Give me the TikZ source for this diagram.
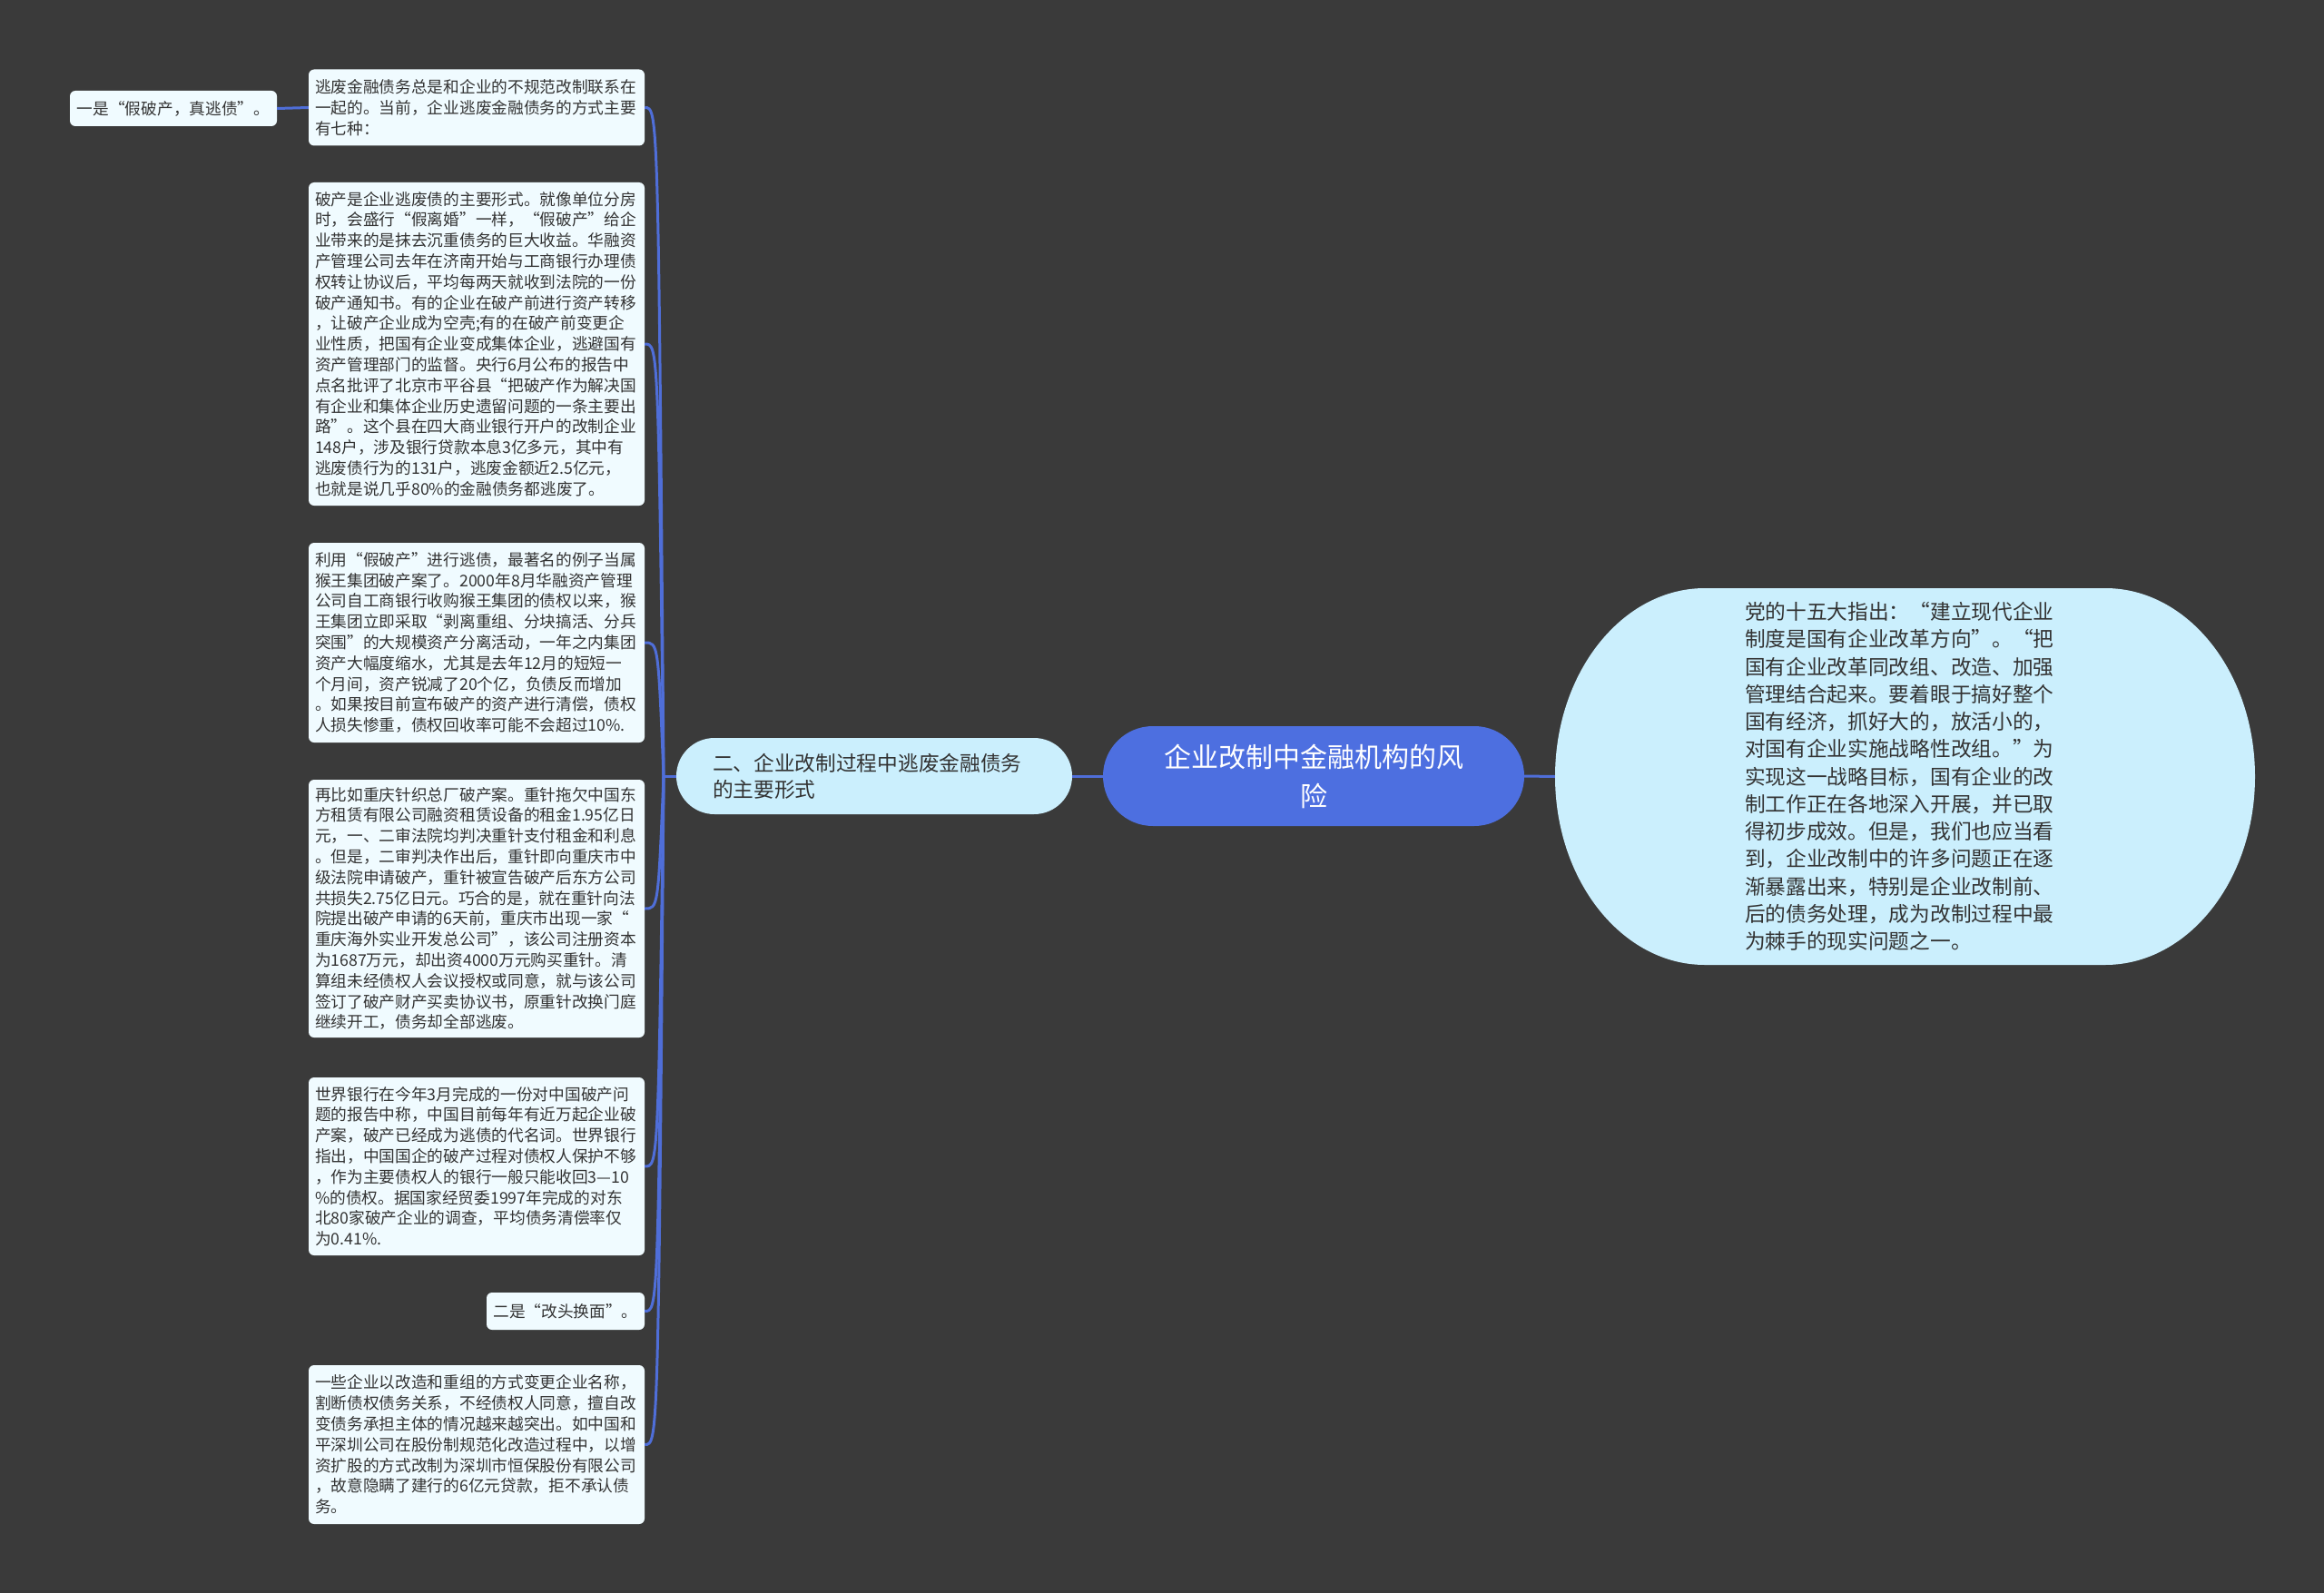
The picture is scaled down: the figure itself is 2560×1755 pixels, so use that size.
\documentclass[tikz,border=0pt]{standalone}
\usepackage{fontspec}
\setmainfont{Noto Sans CJK SC}
\definecolor{bgc}{RGB}{58,58,58}
\definecolor{linkc}{RGB}{79,110,216}
\definecolor{mainc}{RGB}{77,111,224}
\definecolor{lightc}{RGB}{203,239,253}
\definecolor{leafc}{RGB}{240,251,255}
\definecolor{textc}{RGB}{51,51,51}
\tikzset{
  leaf/.style={fill=leafc, rounded corners=6pt, text=textc,
    font=\fontsize{17.7pt}{22.8pt}\selectfont, align=left,
    text width=356pt, inner xsep=7pt, inner ysep=0pt},
  shortleaf/.style={fill=leafc, rounded corners=6pt, text=textc,
    font=\fontsize{17.7pt}{22.8pt}\selectfont, inner ysep=0pt},
  link/.style={draw=linkc, line width=3pt},
}
\begin{document}
\begin{tikzpicture}[x=1pt,y=1pt]
\fill[bgc] (0,0) rectangle (2560,-1755);
\useasboundingbox (0,0) rectangle (2560,-1755);

% right shape
\fill[lightc] (1878,-648) -- (2319,-648)
  arc[start angle=90,end angle=-90,x radius=165pt,y radius=207.5pt]
  -- (1878,-1063)
  arc[start angle=270,end angle=90,x radius=165pt,y radius=207.5pt] -- cycle;
\node (R) at (2098.5,-855.5) [minimum width=771pt, minimum height=415pt,
  text width=353pt, inner xsep=209pt, inner ysep=0pt, align=left, text=textc,
  font=\fontsize{22.7pt}{30.25pt}\selectfont]
{党的十五大指出：“建立现代企业\\
制度是国有企业改革方向”。“把\\
国有企业改革同改组、改造、加强\\
管理结合起来。要着眼于搞好整个\\
国有经济，抓好大的，放活小的，\\
对国有企业实施战略性改组。”为\\
实现这一战略目标，国有企业的改\\
制工作正在各地深入开展，并已取\\
得初步成效。但是，我们也应当看\\
到，企业改制中的许多问题正在逐\\
渐暴露出来，特别是企业改制前、\\
后的债务处理，成为改制过程中最\\
为棘手的现实问题之一。};

% central
\node (C) at (1447,-855) [fill=mainc, rounded corners=55pt, minimum width=464pt,
  minimum height=110pt, text=white, align=center,
  font=\fontsize{30pt}{43pt}\selectfont]
{企业改制中金融机构的风\\险};

% left branch
\node (L) at (963,-855) [fill=lightc, rounded corners=42pt, minimum width=436pt,
  minimum height=84pt, text width=356pt, inner xsep=40pt, inner ysep=0pt,
  align=left, text=textc, font=\fontsize{22.7pt}{29pt}\selectfont]
{二、企业改制过程中逃废金融债务\\的主要形式};

% leaves
\node (n1) at (525,-118.5) [leaf, minimum height=84pt]
{逃废金融债务总是和企业的不规范改制联系在\\一起的。当前，企业逃废金融债务的方式主要\\有七种：};

\node (n2) at (525,-379) [leaf, minimum height=356pt]
{破产是企业逃废债的主要形式。就像单位分房\\
时，会盛行“假离婚”一样，“假破产”给企\\
业带来的是抹去沉重债务的巨大收益。华融资\\
产管理公司去年在济南开始与工商银行办理债\\
权转让协议后，平均每两天就收到法院的一份\\
破产通知书。有的企业在破产前进行资产转移\\
，让破产企业成为空壳;有的在破产前变更企\\
业性质，把国有企业变成集体企业，逃避国有\\
资产管理部门的监督。央行6月公布的报告中\\
点名批评了北京市平谷县“把破产作为解决国\\
有企业和集体企业历史遗留问题的一条主要出\\
路”。这个县在四大商业银行开户的改制企业\\
148户，涉及银行贷款本息3亿多元，其中有\\
逃废债行为的131户，逃废金额近2.5亿元，\\
也就是说几乎80\%的金融债务都逃废了。};

\node (n3) at (525,-708) [leaf, minimum height=220pt]
{利用“假破产”进行逃债，最著名的例子当属\\
猴王集团破产案了。2000年8月华融资产管理\\
公司自工商银行收购猴王集团的债权以来，猴\\
王集团立即采取“剥离重组、分块搞活、分兵\\
突围”的大规模资产分离活动，一年之内集团\\
资产大幅度缩水，尤其是去年12月的短短一\\
个月间，资产锐减了20个亿，负债反而增加\\
。如果按目前宣布破产的资产进行清偿，债权\\
人损失惨重，债权回收率可能不会超过10\%.};

\node (n4) at (525,-1001) [leaf, minimum height=284pt]
{再比如重庆针织总厂破产案。重针拖欠中国东\\
方租赁有限公司融资租赁设备的租金1.95亿日\\
元，一、二审法院均判决重针支付租金和利息\\
。但是，二审判决作出后，重针即向重庆市中\\
级法院申请破产，重针被宣告破产后东方公司\\
共损失2.75亿日元。巧合的是，就在重针向法\\
院提出破产申请的6天前，重庆市出现一家“\\
重庆海外实业开发总公司”，该公司注册资本\\
为1687万元，却出资4000万元购买重针。清\\
算组未经债权人会议授权或同意，就与该公司\\
签订了破产财产买卖协议书，原重针改换门庭\\
继续开工，债务却全部逃废。};

\node (n5) at (525,-1285) [leaf, minimum height=196pt]
{世界银行在今年3月完成的一份对中国破产问\\
题的报告中称，中国目前每年有近万起企业破\\
产案，破产已经成为逃债的代名词。世界银行\\
指出，中国国企的破产过程对债权人保护不够\\
，作为主要债权人的银行一般只能收回3—10\\
\%的债权。据国家经贸委1997年完成的对东\\
北80家破产企业的调查，平均债务清偿率仅\\
为0.41\%.};

\node (n6) at (623,-1444.5) [shortleaf, minimum width=174pt, minimum height=41pt]
{二是“改头换面”。};

\node (n7) at (525,-1591.5) [leaf, minimum height=175pt]
{一些企业以改造和重组的方式变更企业名称，\\
割断债权债务关系，不经债权人同意，擅自改\\
变债务承担主体的情况越来越突出。如中国和\\
平深圳公司在股份制规范化改造过程中，以增\\
资扩股的方式改制为深圳市恒保股份有限公司\\
，故意隐瞒了建行的6亿元贷款，拒不承认债\\
务。};

\node (n8) at (191,-119.5) [shortleaf, minimum width=228pt, minimum height=39pt]
{一是“假破产，真逃债”。};

% connectors
\draw[link] (C.east) -- (R.west);
\draw[link] (L.east) -- (C.west);
\draw[link] (n1.west) -- (n8.east);
\coordinate (j) at (731,-855);
\coordinate (jv) at (725,-855);
\draw[link] (L.west) -- (j);
\foreach \n in {n1,n2,n3,n4,n5,n6,n7}
  \draw[link] (j) .. controls (jv |- \n.east) and (jv |- \n.east) .. (\n.east);
\end{tikzpicture}
\end{document}
